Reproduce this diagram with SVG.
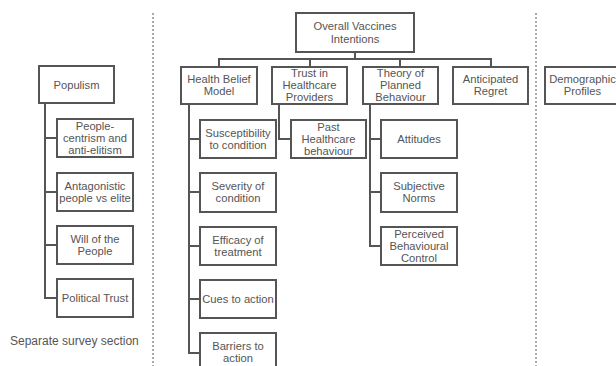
<svg xmlns="http://www.w3.org/2000/svg" width="616" height="366" viewBox="0 0 616 366">
<style>
.box{fill:#fff;stroke:#555;stroke-width:2}
.t{font-family:"Liberation Sans",Arial,sans-serif;font-size:11.2px;fill:#555;text-anchor:middle}
.c{fill:none;stroke:#555;stroke-width:2}
.d{stroke:#555;stroke-width:1;stroke-dasharray:2,2}
</style>
<rect width="616" height="366" fill="#fff"/>
<g id="dividers">
<line class="d" x1="153" y1="13" x2="153" y2="366"/>
<line class="d" x1="536" y1="13" x2="536" y2="366"/>
</g>
<g id="connectors">
<path class="c" d="M45,103 V298 H57 M45,138 H57 M45,192 H57 M45,245 H57"/>
<path class="c" d="M355,52 V59 M219,67 V59 H491 V67 M310,59 V67 M400,59 V67"/>
<path class="c" d="M189,104 V353 H200 M189,139 H200 M189,192 H200 M189,246 H200 M189,299 H200"/>
<path class="c" d="M279,104 V139 H291"/>
<path class="c" d="M370,104 V246 H381 M370,139 H381 M370,192 H381"/>
</g>
<g id="populism"><rect class="box" x="39" y="66" width="75" height="37"/><text class="t" x="76.5" y="89">Populism</text></g>
<g id="people-centrism"><rect class="box" x="57" y="119" width="76" height="38"/><text class="t" x="95" y="130">People-<tspan x="95" dy="12">centrism and</tspan><tspan x="95" dy="12">anti-elitism</tspan></text></g>
<g id="antagonistic"><rect class="box" x="57" y="173" width="76" height="38"/><text class="t" x="95" y="190">Antagonistic<tspan x="95" dy="12">people vs elite</tspan></text></g>
<g id="will"><rect class="box" x="57" y="226" width="76" height="38"/><text class="t" x="95" y="243">Will of the<tspan x="95" dy="12">People</tspan></text></g>
<g id="political-trust"><rect class="box" x="57" y="279" width="76" height="38"/><text class="t" x="95" y="302">Political Trust</text></g>
<text id="separate" x="10" y="345" style="font-family:'Liberation Sans',Arial,sans-serif;font-size:12px;fill:#555">Separate survey section</text>
<g id="overall"><rect class="box" x="296" y="13" width="118" height="39"/><text class="t" x="355" y="30">Overall Vaccines<tspan x="355" dy="12.5">Intentions</tspan></text></g>
<g id="hbm"><rect class="box" x="181" y="67" width="76" height="37"/><text class="t" x="219" y="83">Health Belief<tspan x="219" dy="12">Model</tspan></text></g>
<g id="trust"><rect class="box" x="272" y="67" width="75" height="37"/><text class="t" x="309.5" y="77">Trust in<tspan x="309.5" dy="12">Healthcare</tspan><tspan x="309.5" dy="12">Providers</tspan></text></g>
<g id="tpb"><rect class="box" x="363" y="67" width="75" height="37"/><text class="t" x="400.5" y="77">Theory of<tspan x="400.5" dy="12">Planned</tspan><tspan x="400.5" dy="12">Behaviour</tspan></text></g>
<g id="regret"><rect class="box" x="453" y="67" width="75" height="37"/><text class="t" x="490.5" y="83">Anticipated<tspan x="490.5" dy="12">Regret</tspan></text></g>
<g id="demographic"><rect class="box" x="545" y="67" width="75" height="37"/><text class="t" x="582.5" y="83">Demographic<tspan x="582.5" dy="12">Profiles</tspan></text></g>
<g id="susceptibility"><rect class="box" x="200" y="120" width="76" height="38"/><text class="t" x="238" y="137">Susceptibility<tspan x="238" dy="12">to condition</tspan></text></g>
<g id="severity"><rect class="box" x="200" y="173" width="76" height="39"/><text class="t" x="238" y="190">Severity of<tspan x="238" dy="12">condition</tspan></text></g>
<g id="efficacy"><rect class="box" x="200" y="227" width="76" height="38"/><text class="t" x="238" y="244">Efficacy of<tspan x="238" dy="12">treatment</tspan></text></g>
<g id="cues"><rect class="box" x="200" y="280" width="76" height="38"/><text class="t" x="238" y="303">Cues to action</text></g>
<g id="barriers"><rect class="box" x="200" y="333" width="76" height="38"/><text class="t" x="238" y="350">Barriers to<tspan x="238" dy="12">action</tspan></text></g>
<g id="past"><rect class="box" x="291" y="120" width="75" height="38"/><text class="t" x="328.5" y="131">Past<tspan x="328.5" dy="12">Healthcare</tspan><tspan x="328.5" dy="12">behaviour</tspan></text></g>
<g id="attitudes"><rect class="box" x="381" y="120" width="76" height="38"/><text class="t" x="419" y="143">Attitudes</text></g>
<g id="subjective"><rect class="box" x="381" y="173" width="76" height="39"/><text class="t" x="419" y="190">Subjective<tspan x="419" dy="12">Norms</tspan></text></g>
<g id="perceived"><rect class="box" x="381" y="227" width="76" height="38"/><text class="t" x="419" y="238">Perceived<tspan x="419" dy="12">Behavioural</tspan><tspan x="419" dy="12">Control</tspan></text></g>
</svg>
